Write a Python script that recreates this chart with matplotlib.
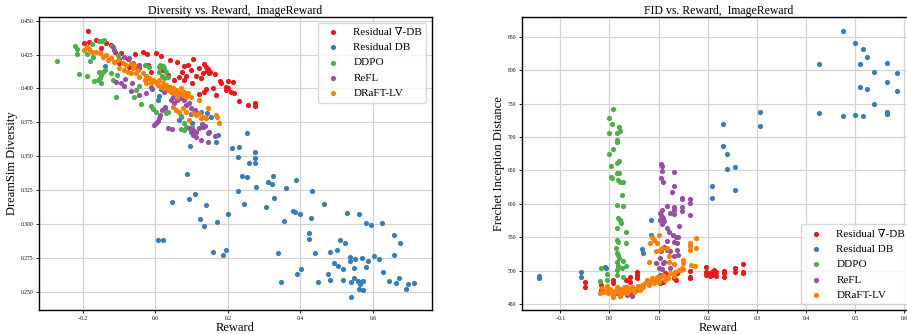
import matplotlib
matplotlib.use("Agg")
import matplotlib.pyplot as plt
import numpy as np

plt.rcParams['font.family'] = ['Liberation Serif', 'DejaVu Serif']
plt.rcParams['mathtext.fontset'] = 'stix'

labels = ["Residual \u2207-DB", "Residual DB", "DDPO", "ReFL", "DRaFT-LV"]
colors = ["#e41a1c", "#377eb8", "#4daf4a", "#984ea3", "#ff7f00"]

# ---------------- Left panel: Diversity vs Reward ----------------
div_red = [(-0.187,0.4424),(-0.196,0.4338),(-0.184,0.4345),(-0.164,0.4357),(-0.150,0.4296),(-0.136,0.4333),
           (-0.122,0.4320),(-0.112,0.4271),(-0.095,0.4259),(-0.076,0.4215),(-0.055,0.4252),(-0.035,0.4266),
           (-0.024,0.4254),(0.002,0.4259),(0.015,0.4239),(0.039,0.4210),(0.060,0.4192),(0.080,0.4168),
           (0.089,0.4173),(0.103,0.4217),(0.098,0.4136),(0.121,0.4148),(0.134,0.4180),(0.140,0.4156),
           (0.144,0.4143),(0.152,0.4124),(0.165,0.4106),(0.142,0.4129),(0.149,0.4111),(0.132,0.4111),
           (0.126,0.4074),(0.112,0.4092),(0.101,0.4042),(0.085,0.4092),(0.074,0.4124),(0.066,0.4087),
           (0.080,0.4062),(0.050,0.4062),(0.034,0.4099),(0.020,0.4136),(0.177,0.4055),(0.181,0.4038),
           (0.201,0.4055),(0.213,0.4045),(0.195,0.4013),(0.201,0.4001),(0.208,0.3976),(0.216,0.3969),
           (0.195,0.3988),(0.158,0.4001),(0.140,0.3993),(0.135,0.3976),(0.120,0.3956),(0.167,0.3951),
           (0.232,0.3910),(0.255,0.3878),(0.274,0.3890),(0.274,0.3870),(-0.044,0.4148),(-0.021,0.4173),
           (-0.072,0.4161),(-0.099,0.4185),(-0.011,0.4124)]
div_blue = [(0.539,0.2463),(0.690,0.2517),(0.697,0.2554),(0.713,0.2561),(0.673,0.2598),(0.664,0.2561),
            (0.644,0.2579),(0.563,0.2522),(0.572,0.2512),(0.558,0.2581),(0.567,0.2571),(0.574,0.2579),
            (0.565,0.2557),(0.548,0.2598),(0.539,0.2574),(0.517,0.2586),(0.483,0.2586),(0.448,0.2569),
            (0.347,0.2571),(0.391,0.2630),(0.402,0.2665),(0.475,0.2630),(0.494,0.2709),(0.505,0.2692),
            (0.517,0.2665),(0.547,0.2672),(0.582,0.2680),(0.627,0.2648),(0.536,0.2756),(0.536,0.2726),
            (0.551,0.2744),(0.569,0.2746),(0.586,0.2724),(0.603,0.2761),(0.616,0.2739),(0.657,0.2771),
            (0.676,0.2862),(0.657,0.2918),(0.624,0.3009),(0.594,0.2994),(0.581,0.3009),(0.561,0.3071),
            (0.528,0.3083),(0.522,0.2857),(0.509,0.2881),(0.500,0.2805),(0.483,0.2790),(0.440,0.2788),
            (0.424,0.2889),(0.424,0.2931),(0.428,0.3044),(0.398,0.3071),(0.384,0.3090),(0.379,0.3095),
            (0.355,0.3019),(0.338,0.2783),(0.306,0.3122),(0.328,0.3191),(0.360,0.3268),(0.389,0.3322),
            (0.431,0.3243),(0.465,0.3149),(0.312,0.3312),(0.322,0.3292),(0.325,0.3354),(0.277,0.3270),
            (0.254,0.3344),(0.239,0.3356),(0.229,0.3243),(0.244,0.3149),(0.257,0.3450),(0.274,0.3447),
            (0.276,0.3486),(0.276,0.3533),(0.228,0.3491),(0.231,0.3568),(0.210,0.3563),(0.253,0.3668),
            (0.173,0.3656),(0.168,0.3607),(0.154,0.3791),(0.143,0.3821),(0.095,0.3573),(0.086,0.3366),
            (0.109,0.3218),(0.094,0.3181),(0.140,0.3142),(0.045,0.3164),(0.123,0.3036),(0.134,0.2985),
            (0.170,0.3017),(0.201,0.3073),(0.006,0.2879),(0.021,0.2879),(0.160,0.2790),(0.187,0.2771),
            (0.194,0.2808),(0.101,0.3742),(-0.139,0.4168),(0.006,0.3914),(-0.009,0.3993),(0.016,0.3993),
            (0.027,0.3865),(0.009,0.3944),(0.066,0.3767),(0.071,0.3791),(0.126,0.3828),(0.098,0.3681),
            (0.098,0.3809)]
div_green = [(-0.272,0.4205),(-0.222,0.4313),(-0.217,0.4291),(-0.215,0.4254),(-0.212,0.4109),(-0.188,0.4089),
             (-0.180,0.4202),(-0.171,0.4229),(-0.189,0.4252),(-0.156,0.4352),(-0.147,0.4352),(-0.141,0.4357),
             (-0.175,0.4328),(-0.168,0.4055),(-0.159,0.4062),(-0.154,0.4079),(-0.150,0.4099),(-0.145,0.4124),
             (-0.156,0.4124),(-0.151,0.4040),(-0.138,0.4136),(-0.122,0.4111),(-0.116,0.4062),(-0.106,0.4099),
             (-0.109,0.3939),(-0.121,0.4313),(-0.104,0.4247),(-0.058,0.3939),(-0.053,0.3988),(-0.044,0.4018),
             (-0.040,0.3883),(-0.030,0.4173),(-0.017,0.4161),(-0.012,0.3870),(-0.007,0.3846),(0.002,0.3828),
             (0.009,0.4161),(0.014,0.4173),(0.020,0.4166),(0.025,0.4148),(0.011,0.4124),(0.029,0.4124),
             (0.017,0.4094),(0.025,0.4074),(0.034,0.4087),(0.029,0.3816),(0.034,0.3828),(0.071,0.3796),
             (0.080,0.3747),(0.085,0.3713),(0.071,0.3698),(0.101,0.3718),(0.080,0.3693),(-0.026,0.4092),
             (-0.012,0.4062)]
div_purple = [(-0.118,0.4308),(-0.113,0.4284),(-0.099,0.4215),(-0.086,0.4234),(-0.072,0.4222),(-0.063,0.4185),
              (-0.053,0.4161),(-0.044,0.4173),(-0.109,0.4050),(-0.095,0.4038),(-0.086,0.4018),(-0.083,0.4070),
              (-0.064,0.4042),(-0.067,0.3983),(-0.044,0.3951),(-0.026,0.3969),(-0.012,0.4013),(-0.003,0.3730),
              (0.002,0.3742),(0.006,0.3762),(0.009,0.3779),(0.013,0.3804),(0.017,0.3841),(0.027,0.3853),
              (0.034,0.3710),(0.046,0.3698),(0.043,0.3914),(0.048,0.3939),(0.057,0.3951),(0.066,0.3964),
              (0.061,0.3914),(0.052,0.3890),(0.071,0.3927),(0.080,0.3914),(0.085,0.3878),(0.094,0.3890),
              (0.098,0.3853),(0.108,0.3841),(0.117,0.3816),(0.094,0.3705),(0.103,0.3693),(0.112,0.3681),
              (0.121,0.3705),(0.132,0.3718),(0.129,0.3737),(0.137,0.3722),(0.103,0.3656),(0.112,0.3639),
              (0.126,0.3619),(0.144,0.3607),(0.149,0.3681),(0.165,0.3649),(0.144,0.3668),(0.034,0.4013),
              (0.025,0.3976)]
div_orange = [(-0.196,0.4284),(-0.189,0.4308),(-0.182,0.4288),(-0.175,0.4271),(-0.164,0.4271),(-0.154,0.4259),
              (-0.145,0.4234),(-0.136,0.4247),(-0.131,0.4210),(-0.122,0.4222),(-0.113,0.4197),(-0.104,0.4210),
              (-0.099,0.4148),(-0.090,0.4185),(-0.081,0.4173),(-0.076,0.4124),(-0.067,0.4185),(-0.063,0.4148),
              (-0.058,0.4173),(-0.053,0.4111),(-0.049,0.4136),(-0.044,0.4087),(-0.035,0.4111),(-0.030,0.4062),
              (-0.026,0.4087),(-0.017,0.4074),(-0.012,0.4038),(-0.007,0.4062),(0.002,0.4050),(0.006,0.4025),
              (0.011,0.4062),(0.016,0.4013),(0.020,0.4038),(0.025,0.4001),(0.029,0.4025),(0.034,0.3988),
              (0.039,0.4013),(0.043,0.3976),(0.048,0.4001),(0.052,0.3964),(0.057,0.3988),(0.061,0.3939),
              (0.066,0.3964),(0.071,0.4001),(0.075,0.3951),(0.080,0.3976),(0.085,0.3939),(0.089,0.3964),
              (0.098,0.3939),(0.048,0.3865),(0.057,0.3841),(0.066,0.3828),(0.075,0.3853),(0.085,0.3828),
              (0.094,0.3767),(0.103,0.3816),(0.112,0.3804),(0.121,0.3816),(0.126,0.3779),(0.132,0.3791),
              (0.140,0.3779),(0.144,0.3853),(0.121,0.3914),(0.167,0.3804),(0.171,0.3791),(0.175,0.3747),
              (-0.086,0.4136),(-0.067,0.4116),(-0.026,0.4038)]

# ---------------- Right panel: FID vs Reward ----------------
fid_red = [(-0.050,483.4),(-0.050,474.9),(-0.018,478.4),(-0.018,470.9),(0.008,485.9),(0.008,480.9),
           (0.033,485.9),(0.042,490.9),(0.042,483.4),(0.056,498.4),(0.056,493.4),(0.056,488.4),
           (0.110,483.4),(0.114,495.9),(0.131,488.4),(0.136,485.9),(0.137,495.9),(0.163,499.9),
           (0.163,490.9),(0.163,488.4),(0.197,505.9),(0.197,498.4),(0.197,493.4),(0.204,495.9),
           (0.204,491.9),(0.209,498.4),(0.209,493.4),(0.212,500.9),(0.212,495.9),(0.216,498.4),
           (0.216,491.9),(0.233,499.9),(0.233,490.9),(0.233,495.9),(0.255,504.4),(0.255,498.4),
           (0.272,509.9),(0.272,498.4),(0.272,495.9),(0.103,480.9)]
fid_blue = [(-0.143,491.9),(-0.143,488.4),(-0.058,498.4),(-0.058,490.9),(-0.010,505.9),(-0.008,503.4),
            (0.066,532.3),(0.068,525.8),(0.084,575.7),(0.084,553.2),(0.209,627.1),(0.209,608.6),
            (0.231,719.8),(0.231,686.9),(0.239,674.9),(0.239,651.5),(0.256,654.9),(0.256,620.6),
            (0.307,737.8),(0.307,716.3),(0.427,808.6),(0.427,735.8),(0.476,858.5),(0.476,730.8),
            (0.500,841.0),(0.500,732.3),(0.517,831.0),(0.517,730.8),(0.524,820.1),(0.510,808.6),
            (0.510,775.2),(0.524,771.7),(0.539,797.1),(0.539,749.8),(0.566,810.1),(0.566,781.7),
            (0.566,737.3),(0.566,734.8),(0.586,796.1),(0.586,768.7)]
fid_green = [(0.007,741.3),(-0.001,728.8),(0.006,718.8),(-0.001,705.4),(0.015,706.4),(0.020,714.3),
             (0.022,708.8),(0.015,695.4),(0.015,692.9),(0.007,681.9),(-0.001,674.4),(0.020,664.4),
             (0.015,660.5),(0.004,657.0),(0.004,640.5),(0.005,638.0),(0.015,645.5),(0.020,645.5),
             (0.018,635.5),(0.022,633.0),(0.027,633.0),(0.026,613.1),(0.015,598.1),(0.027,596.6),
             (0.017,578.2),(0.022,575.7),(0.024,571.7),(0.015,564.2),(0.033,558.2),(0.015,545.8),
             (0.017,543.3),(0.033,541.8),(0.013,533.3),(0.015,525.8),(0.018,523.3),(0.020,518.3),
             (0.027,514.3),(0.015,513.3),(0.017,507.4),(0.033,506.9),(0.025,504.4),(0.015,500.9),
             (-0.017,504.4),(-0.005,494.9),(-0.019,484.4),(-0.005,485.9),(0.027,490.9),(0.015,493.4)]
fid_purple = [(0.105,659.5),(0.107,656.5),(0.108,649.0),(0.105,639.0),(0.110,633.0),(0.131,647.5),
              (0.131,626.6),(0.127,618.1),(0.147,608.6),(0.148,607.1),(0.165,606.6),(0.165,600.6),
              (0.117,597.1),(0.131,594.6),(0.131,590.6),(0.148,595.6),(0.148,589.1),(0.165,582.7),
              (0.124,585.6),(0.103,586.6),(0.105,583.2),(0.107,580.7),(0.110,578.2),(0.108,590.6),
              (0.103,575.7),(0.112,574.7),(0.107,569.7),(0.131,584.7),(0.142,566.7),(0.117,563.2),
              (0.121,558.2),(0.129,553.2),(0.135,549.7),(0.139,549.7),(0.131,542.3),(0.137,540.8),
              (0.117,544.8),(0.112,535.8),(0.117,530.8),(0.105,529.8),(0.124,529.8),(0.137,530.8),
              (0.131,521.8),(0.139,523.3),(0.102,518.3),(0.110,510.9),(0.095,510.9),(0.100,503.4),
              (0.107,501.9),(0.124,503.4),(0.112,513.3),(0.015,465.9),(0.022,464.4),(0.029,468.4),
              (0.035,463.4),(0.042,465.9),(0.046,461.9),(0.054,470.9),(0.097,488.4),(0.103,493.4),
              (0.100,483.4)]
fid_orange = [(0.100,553.2),(0.086,549.7),(0.090,546.3),(0.097,541.3),(0.083,541.3),(0.107,533.8),
              (0.117,533.8),(0.095,528.8),(0.103,530.3),(0.121,521.3),(0.080,513.3),(0.131,509.4),
              (0.165,541.3),(0.165,536.3),(0.165,531.3),(0.177,533.8),(0.177,549.2),(0.150,516.3),
              (0.150,511.4),(0.167,508.9),(0.175,506.4),(0.121,512.4),(0.146,501.4),(0.150,502.9),
              (-0.016,473.4),(-0.012,468.4),(-0.005,470.9),(-0.002,465.9),(0.001,471.9),(0.005,466.9),
              (0.008,463.4),(0.012,469.9),(0.015,475.9),(0.018,468.4),(0.022,471.9),(0.025,466.9),
              (0.029,474.9),(0.032,469.9),(0.035,465.9),(0.039,471.9),(0.042,470.9),(0.046,475.9),
              (0.049,468.4),(0.056,473.4),(0.059,476.9),(0.063,470.9),(0.066,478.4),(0.069,474.9),
              (0.073,481.9),(0.076,485.9),(0.080,478.4),(0.083,483.4),(0.086,488.4),(0.090,480.9),
              (0.093,485.9),(0.097,490.9),(0.100,483.4),(0.103,489.9),(0.110,493.4),(0.114,485.9),
              (0.117,490.9),(0.120,488.4),(0.124,495.9),(0.131,491.9),(0.134,498.4),(0.141,500.9),
              (0.148,503.4),(-0.005,476.9),(0.008,461.0),(-0.019,466.9),(0.022,462.0),(0.035,475.9)]

left_series = [div_red, div_blue, div_green, div_purple, div_orange]
right_series = [fid_red, fid_blue, fid_green, fid_purple, fid_orange]

left_xticks = [-0.2, 0.0, 0.2, 0.4, 0.6]
left_yticks = [0.250, 0.275, 0.300, 0.325, 0.350, 0.375, 0.400, 0.425, 0.450]
right_xticks = [-0.1, 0.0, 0.1, 0.2, 0.3, 0.4, 0.5, 0.6]
right_yticks = [450, 500, 550, 600, 650, 700, 750, 800, 850]

fig = plt.figure(figsize=(9.07, 3.34), dpi=100)
axL = fig.add_axes([39/907, 24/334, 393/907, 293/334])
axR = fig.add_axes([522/907, 24/334, 393/907, 293/334])


def style(ax):
    ax.grid(True, color='#d3d3d3', linewidth=0.9)
    ax.set_axisbelow(True)
    ax.tick_params(labelsize=4, length=2, width=0.6, pad=2)
    for s in ax.spines.values():
        s.set_linewidth(1.0)
        s.set_color('black')


for pts, c, lab in zip(left_series, colors, labels):
    a = np.array(pts)
    axL.scatter(a[:, 0], a[:, 1], s=14, c=c, linewidths=0, label=lab)
axL.set_xlim(-0.321, 0.763)
axL.set_ylim(0.2365, 0.4527)
axL.set_xticks(left_xticks)
axL.set_yticks(left_yticks)
axL.set_yticklabels([f"{v:.3f}" for v in left_yticks])
axL.set_xticklabels(["\u22120.2", "0.0", "0.2", "0.4", "0.6"])
axL.set_title("Diversity vs. Reward,  ImageReward", fontsize=8.5, pad=2)
axL.set_xlabel("Reward", fontsize=9, labelpad=1)
axL.set_ylabel("DreamSim Diversity", fontsize=9, labelpad=2)
style(axL)
axL.legend(loc='upper right', fontsize=8, framealpha=0.8, edgecolor='#d0d0d0', fancybox=True)

for pts, c, lab in zip(right_series, colors, labels):
    a = np.array(pts)
    axR.scatter(a[:, 0], a[:, 1], s=14, c=c, linewidths=0, label=lab)
axR.set_xlim(-0.178, 0.622)
axR.set_ylim(441, 879.5)
axR.set_xticks(right_xticks)
axR.set_yticks(right_yticks)
axR.set_xticklabels(["\u22120.1", "0.0", "0.1", "0.2", "0.3", "0.4", "0.5", "0.6"])
axR.set_title("FID vs. Reward,  ImageReward", fontsize=8.5, pad=2)
axR.set_xlabel("Reward", fontsize=9, labelpad=1)
axR.set_ylabel("Frechet Inception Distance", fontsize=9, labelpad=2)
style(axR)
axR.legend(loc='lower right', fontsize=8, framealpha=0.8, edgecolor='#d0d0d0', fancybox=True)

fig.savefig("out.png", dpi=100)
